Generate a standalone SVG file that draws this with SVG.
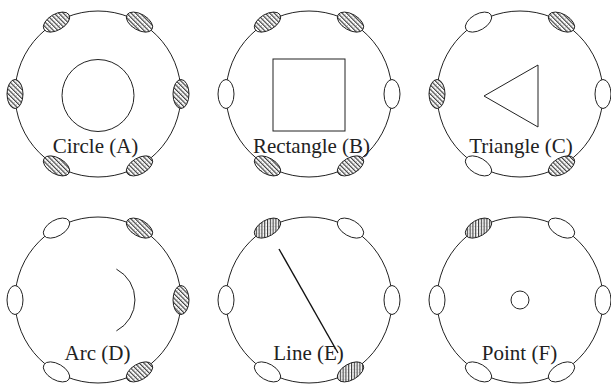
<svg xmlns="http://www.w3.org/2000/svg" width="611" height="385" viewBox="0 0 611 385">
<style>
.ring{fill:none;stroke:#222;stroke-width:1}
.shape{fill:none;stroke:#222;stroke-width:1}
.pad{fill:#fff;stroke:#222;stroke-width:1}
.hd{fill:url(#hatchD);stroke:#222;stroke-width:1}
.hv{fill:url(#hatchV);stroke:#222;stroke-width:1}
text{font-size:21px;fill:#222;text-anchor:middle}
</style>
<defs>
<pattern id="hatchD" patternUnits="userSpaceOnUse" width="3.2" height="3.2" patternTransform="rotate(-45)">
<rect width="3.2" height="3.2" fill="#fff"/>
<line x1="0.6" y1="0" x2="0.6" y2="3.2" stroke="#222" stroke-width="1"/>
<circle cx="2.2" cy="1.2" r="0.35" fill="#555"/>
</pattern>
<pattern id="hatchV" patternUnits="userSpaceOnUse" width="2.8" height="3.4">
<rect width="2.8" height="3.4" fill="#fff"/>
<line x1="0.6" y1="0" x2="0.6" y2="3.4" stroke="#222" stroke-width="1"/>
<circle cx="2" cy="1.2" r="0.3" fill="#666"/>
</pattern>
<path id="eR" d="M83,-14.5 A8 14.5 0 1 0 83,14.5 A8 14.5 0 1 0 83,-14.5Z"/>
<path id="eL" d="M-83,-14.5 A8 14.5 0 1 0 -83,14.5 A8 14.5 0 1 0 -83,-14.5Z"/>
<path id="eBR" d="M28.94,79.15 A14.5 8 -30 1 0 54.06,64.65 A14.5 8 -30 1 0 28.94,79.15Z"/>
<path id="eBL" d="M-54.06,64.65 A14.5 8 30 1 0 -28.94,79.15 A14.5 8 30 1 0 -54.06,64.65Z"/>
<path id="eTL" d="M-54.06,-64.65 A14.5 8 -30 1 0 -28.94,-79.15 A14.5 8 -30 1 0 -54.06,-64.65Z"/>
<path id="eTR" d="M28.94,-79.15 A14.5 8 30 1 0 54.06,-64.65 A14.5 8 30 1 0 28.94,-79.15Z"/>
</defs>

<g id="panelA">
<circle class="ring" cx="98" cy="94" r="83"/>
<use href="#eR" x="98" y="94" class="hd"/>
<use href="#eBR" x="98" y="94" class="hd"/>
<use href="#eBL" x="98" y="94" class="hd"/>
<use href="#eL" x="98" y="94" class="hd"/>
<use href="#eTL" x="98" y="94" class="hd"/>
<use href="#eTR" x="98" y="94" class="hd"/>
<circle class="shape" cx="98" cy="95.5" r="36"/>
<text x="95.5" y="153" font-family="'Liberation Serif', 'Times New Roman', serif">Circle (A)</text>
</g>

<g id="panelB">
<circle class="ring" cx="309" cy="94" r="83"/>
<use href="#eR" x="309" y="94" class="pad"/>
<use href="#eBR" x="309" y="94" class="hd"/>
<use href="#eBL" x="309" y="94" class="hd"/>
<use href="#eL" x="309" y="94" class="pad"/>
<use href="#eTL" x="309" y="94" class="hd"/>
<use href="#eTR" x="309" y="94" class="hd"/>
<rect class="shape" x="273" y="59" width="72" height="72"/>
<text x="311.5" y="153" font-family="'Liberation Serif', 'Times New Roman', serif">Rectangle (B)</text>
</g>

<g id="panelC">
<circle class="ring" cx="520" cy="94" r="83"/>
<use href="#eR" x="520" y="94" class="pad"/>
<use href="#eBR" x="520" y="94" class="hd"/>
<use href="#eBL" x="520" y="94" class="pad"/>
<use href="#eL" x="520" y="94" class="hd"/>
<use href="#eTL" x="520" y="94" class="pad"/>
<use href="#eTR" x="520" y="94" class="hd"/>
<polygon class="shape" points="484,96 538,65 538,127"/>
<text x="521" y="153" font-family="'Liberation Serif', 'Times New Roman', serif">Triangle (C)</text>
</g>

<g id="panelD">
<circle class="ring" cx="98" cy="300" r="83"/>
<use href="#eR" x="98" y="300" class="hd"/>
<use href="#eBR" x="98" y="300" class="hd"/>
<use href="#eBL" x="98" y="300" class="pad"/>
<use href="#eL" x="98" y="300" class="pad"/>
<use href="#eTL" x="98" y="300" class="pad"/>
<use href="#eTR" x="98" y="300" class="hd"/>
<path class="shape" d="M116.4,269.1 A35 35 0 0 1 116.4,330.9"/>
<text x="97.5" y="360" font-family="'Liberation Serif', 'Times New Roman', serif">Arc (D)</text>
</g>

<g id="panelE">
<circle class="ring" cx="309" cy="300" r="83"/>
<use href="#eR" x="309" y="300" class="pad"/>
<use href="#eBR" x="309" y="300" class="hv"/>
<use href="#eBL" x="309" y="300" class="pad"/>
<use href="#eL" x="309" y="300" class="pad"/>
<use href="#eTL" x="309" y="300" class="hv"/>
<use href="#eTR" x="309" y="300" class="pad"/>
<line x1="279" y1="249" x2="338" y2="353" stroke="#111" stroke-width="1.4"/>
<text x="308.5" y="360" font-family="'Liberation Serif', 'Times New Roman', serif">Line (E)</text>
</g>

<g id="panelF">
<circle class="ring" cx="520" cy="300" r="83"/>
<use href="#eR" x="520" y="300" class="pad"/>
<use href="#eBR" x="520" y="300" class="pad"/>
<use href="#eBL" x="520" y="300" class="pad"/>
<use href="#eL" x="520" y="300" class="pad"/>
<use href="#eTL" x="520" y="300" class="hv"/>
<use href="#eTR" x="520" y="300" class="pad"/>
<circle class="shape" cx="520" cy="300" r="9"/>
<text x="519.5" y="360" font-family="'Liberation Serif', 'Times New Roman', serif">Point (F)</text>
</g>
</svg>
